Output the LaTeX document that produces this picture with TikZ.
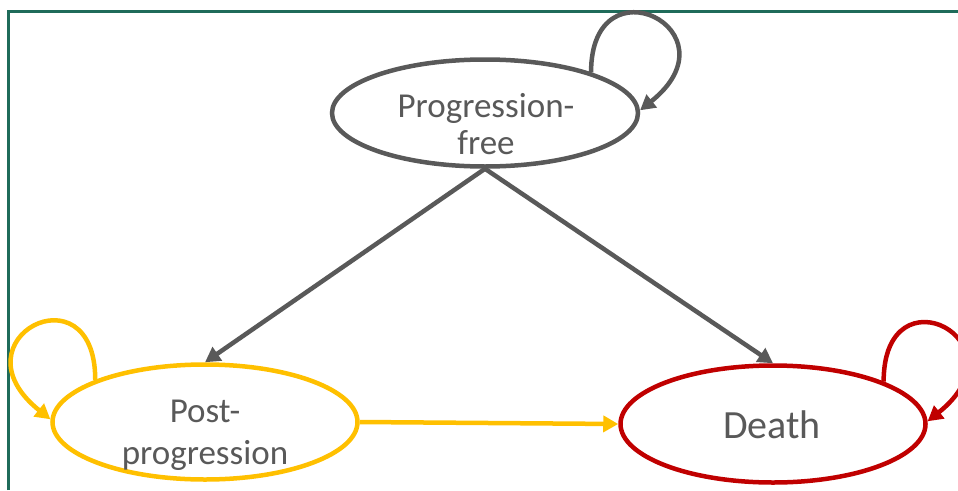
\documentclass[tikz,border=0pt]{standalone}
\usepackage{fontspec}
\setmainfont{Carlito}
\usetikzlibrary{shapes.geometric,arrows.meta,calc}
\definecolor{pfgray}{HTML}{595959}
\definecolor{ppyel}{HTML}{FFC000}
\definecolor{dred}{HTML}{C00000}
\definecolor{framecol}{HTML}{1F6B5A}
\begin{document}
\begin{tikzpicture}[x=1pt,y=-1pt,
  stateell/.style={ellipse, line width=4.5pt, inner sep=0pt, fill=white},
  txt/.style={font=\fontsize{35pt}{37pt}\selectfont, text=pfgray, inner sep=0pt, anchor=base},
  bigtxt/.style={font=\fontsize{40pt}{42pt}\selectfont, text=pfgray, inner sep=0pt, anchor=base},
  arr/.style={line width=4.5pt, -{Triangle[length=15pt,width=16pt]}}]
\useasboundingbox (0,0) rectangle (958,490);
\draw[framecol, line width=2.5pt] (8.5,490) -- (8.5,11.5) -- (958,11.5);
% states
\node[stateell, draw=pfgray, minimum width=306pt, minimum height=107pt] (pf) at (485,113) {};
\node[stateell, draw=ppyel, minimum width=305pt, minimum height=115pt] (pp) at (205,422) {};
\node[stateell, draw=dred, minimum width=305pt, minimum height=117pt] (dd) at (773,424) {};
% labels
\node[txt] (pf1) at (486,117) {Progression-};
\node[txt] (pf2) at (486,154) {free};
\node[txt] (pp1) at (205,422) {Post-};
\node[txt] (pp2) at (205,464) {progression};
\node[bigtxt] (dd1) at (772,438) {Death};
% transitions
\draw[arr, color=pfgray] (pf.south) -- (pp.north);
\draw[arr, color=pfgray] (pf.south) -- (dd.north);
\draw[arr, color=ppyel] (pp.east) -- (dd.west);
% self loops
\draw[arr, color=pfgray] (pf.21) .. controls +(0,-115) and +(100,-80) .. (pf.1);
\draw[arr, color=ppyel] (pp.159) .. controls +(0,-115) and +(-100,-80) .. (pp.179);
\draw[arr, color=dred] (dd.21) .. controls +(0,-115) and +(100,-80) .. (dd.1);
\end{tikzpicture}
\end{document}
